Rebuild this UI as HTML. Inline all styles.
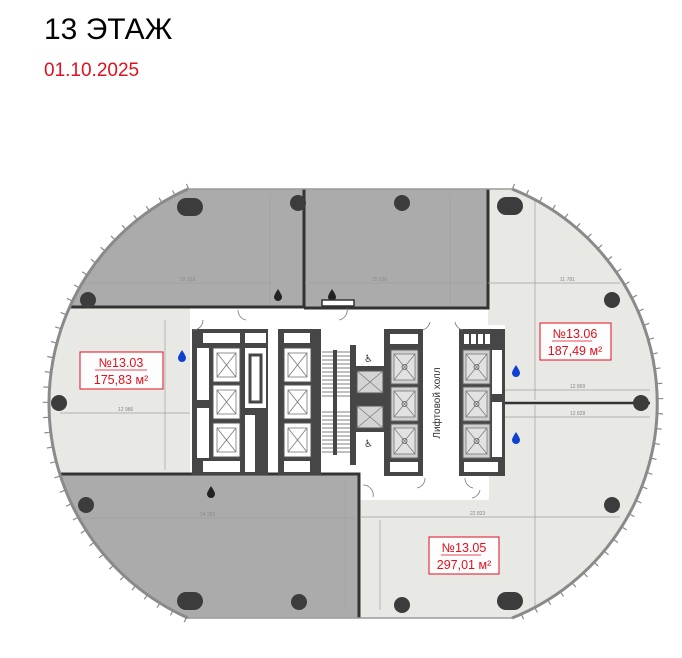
<!DOCTYPE html>
<html><head><meta charset="utf-8"><style>
html,body{margin:0;padding:0;background:#fff;width:682px;height:658px;overflow:hidden;}
.t{position:absolute;left:44px;top:13px;font:30px "Liberation Sans","DejaVu Sans",sans-serif;color:#000}
.d{position:absolute;left:44px;top:60px;font:19px "Liberation Sans","DejaVu Sans",sans-serif;color:#e0101e}
svg{position:absolute;left:0;top:0}
</style></head><body>
<div class="t">13 ЭТАЖ</div>
<div class="d">01.10.2025</div>
<svg width="682" height="658" viewBox="0 0 682 658" font-family="Liberation Sans, DejaVu Sans, sans-serif">
<defs>
<clipPath id="c"><path d="M188,189 L512,189 A231 231 0 0 1 512,618 L188,618 A235 235 0 0 1 188,189 Z"/></clipPath>
<g id="xb"><rect x="0" y="0" width="27" height="34" fill="#fff" stroke="#555" stroke-width="1"/><path d="M4,5 L23,29 M23,5 L4,29" stroke="#777" stroke-width="0.8"/><rect x="4" y="5" width="19" height="24" fill="none" stroke="#777" stroke-width="0.8"/></g>
<g id="eb"><rect x="0" y="0" width="27" height="34" fill="#cfd0cf" stroke="#666" stroke-width="1"/><rect x="3" y="4" width="21" height="26" fill="#e2e2e2" stroke="#777" stroke-width="0.8"/><path d="M3,4 L24,30 M24,4 L3,30" stroke="#777" stroke-width="0.7"/><circle cx="13.5" cy="17" r="2.5" fill="none" stroke="#555" stroke-width="0.8"/></g>
</defs>
<path d="M188,189 L512,189 A231 231 0 0 1 512,618 L188,618 A235 235 0 0 1 188,189 Z" fill="#e8e9e5"/>
<g clip-path="url(#c)">
<rect x="40" y="189" width="264" height="118" fill="#ababab"/>
<rect x="304" y="189" width="184" height="119" fill="#ababab"/>
<rect x="40" y="475" width="319" height="143" fill="#ababab"/>
<rect x="190" y="307" width="298" height="168" fill="#fff"/>
<rect x="488" y="325" width="17" height="150" fill="#fff"/>
<rect x="359" y="475" width="130" height="25" fill="#fff"/>
<g stroke="#333" stroke-width="3" fill="none">
<path d="M40,307 L304,307 M304,189 L304,307 M488,189 L488,308 L304,308"/>
<path d="M40,474 L359,474 L359,618"/>
</g>
<path d="M505,403 L650,403" stroke="#333" stroke-width="2.5"/>
<g stroke="#a0a0a0" stroke-width="0.7">
<path d="M80,283 L270,283 M270,195 L270,305 M305,283 L487,283 M450,195 L450,305"/>
<path d="M488,283 L620,283 M535,200 L535,400 M505,390 L650,390 M505,417 L650,417"/>
<path d="M535,405 L535,610 M360,517 L620,517 M380,520 L380,610"/>
<path d="M165,320 L165,470 M60,413 L190,413 M70,518 L355,518 M345,480 L345,610"/>
</g>
<g font-size="5" fill="#888">
<text x="180" y="281">19 332</text><text x="372" y="281">15 550</text><text x="560" y="281">11 781</text>
<text x="570" y="388">12 869</text><text x="570" y="415">12 828</text><text x="470" y="515">22 823</text>
<text x="118" y="411">12 986</text><text x="200" y="516">24 293</text>
</g>
</g>
<path d="M188,189 A235 235 0 0 0 188,618" fill="none" stroke="#8a8a8a" stroke-width="3"/>
<path d="M512,189 A231 231 0 0 1 512,618" fill="none" stroke="#8a8a8a" stroke-width="3"/>
<path d="M188,189 L512,189 M188,618 L512,618" stroke="#9a9a9a" stroke-width="1.5"/>
<path d="M188,186 A237 237 0 0 0 188,621" fill="none" stroke="#8a8a8a" stroke-width="5" stroke-dasharray="1.2 14"/>
<path d="M513,186 A234 234 0 0 1 513,621" fill="none" stroke="#8a8a8a" stroke-width="5" stroke-dasharray="1.2 14"/>
<g fill="#3c3c3c">
<rect x="177" y="198" width="26" height="18" rx="9"/>
<rect x="497" y="197" width="26" height="18" rx="9"/>
<rect x="177" y="592" width="26" height="18" rx="9"/>
<rect x="497" y="592" width="26" height="18" rx="9"/>
<circle cx="298" cy="203" r="8"/><circle cx="402" cy="203" r="8"/>
<circle cx="88" cy="300" r="8"/><circle cx="612" cy="300" r="8"/>
<circle cx="59" cy="403" r="8"/><circle cx="641" cy="403" r="8"/>
<circle cx="86" cy="505" r="8"/><circle cx="612" cy="505" r="8"/>
<circle cx="299" cy="602" r="8"/><circle cx="402" cy="605" r="8"/>
</g>
<g fill="#222">
<path d="M278,289 q-4,6 -4,8 a4,4 0 0 0 8,0 q0,-2 -4,-8z"/>
<path d="M332,289 q-4,6 -4,8 a4,4 0 0 0 8,0 q0,-2 -4,-8z"/>
<path d="M211,486 q-4,6 -4,8 a4,4 0 0 0 8,0 q0,-2 -4,-8z"/>
</g>
<g fill="#1040d0">
<path d="M182,350 q-4,6 -4,8 a4,4 0 0 0 8,0 q0,-2 -4,-8z"/>
<path d="M516,365 q-4,6 -4,8 a4,4 0 0 0 8,0 q0,-2 -4,-8z"/>
<path d="M516,432 q-4,6 -4,8 a4,4 0 0 0 8,0 q0,-2 -4,-8z"/>
</g>
<g fill="#464646">
<rect x="192" y="329" width="76" height="146"/>
<rect x="278" y="329" width="39" height="146"/>
<rect x="316" y="329" width="5" height="146"/>
<rect x="350" y="345" width="6" height="120"/>
<rect x="354" y="366" width="32" height="66"/>
<rect x="384" y="329" width="39" height="147"/>
<rect x="459" y="329" width="46" height="147"/>
</g>
<g fill="#fff">
<rect x="203" y="333" width="37" height="10"/><rect x="245" y="333" width="21" height="10"/>
<rect x="197" y="348" width="12" height="52"/><rect x="197" y="408" width="12" height="50"/>
<rect x="245" y="348" width="21" height="60"/><rect x="245" y="415" width="10" height="57"/>
<rect x="203" y="461" width="37" height="11"/>
<rect x="284" y="333" width="26" height="10"/><rect x="284" y="461" width="26" height="11"/>
<rect x="390" y="334" width="28" height="10"/><rect x="390" y="462" width="28" height="10"/>
<rect x="464" y="334" width="5" height="10"/><rect x="471" y="334" width="5" height="10"/><rect x="478" y="334" width="5" height="10"/><rect x="485" y="334" width="5" height="10"/>
<rect x="492" y="350" width="10" height="44"/><rect x="492" y="402" width="10" height="55"/>
<rect x="464" y="462" width="34" height="10"/>
</g>
<rect x="250" y="355" width="11" height="47" fill="none" stroke="#464646" stroke-width="3"/>
<use href="#xb" x="213" y="348"/><use href="#xb" x="213" y="385"/><use href="#xb" x="213" y="423"/>
<use href="#xb" x="284" y="348"/><use href="#xb" x="284" y="385"/><use href="#xb" x="284" y="423"/>
<use href="#eb" x="391" y="350"/><use href="#eb" x="391" y="387"/><use href="#eb" x="391" y="424"/>
<use href="#eb" x="463" y="350"/><use href="#eb" x="463" y="387"/><use href="#eb" x="463" y="424"/>
<rect x="357" y="371" width="26" height="22" fill="#d4d4d4" stroke="#555"/>
<rect x="357" y="406" width="26" height="22" fill="#d4d4d4" stroke="#555"/>
<path d="M357,371 L383,393 M383,371 L357,393 M357,406 L383,428 M383,406 L357,428" stroke="#777" stroke-width="0.7"/>
<text x="364" y="362" font-size="10" fill="#333">♿</text><text x="364" y="447" font-size="10" fill="#333">♿</text>
<g stroke="#555" stroke-width="0.8">
<path d="M322,352 h28 M322,356 h28 M322,360 h28 M322,364 h28 M322,368 h28 M322,372 h28 M322,376 h28 M322,380 h28 M322,384 h28 M322,388 h28 M322,392 h28 M322,396 h28"/>
<path d="M322,412 h28 M322,416 h28 M322,420 h28 M322,424 h28 M322,428 h28 M322,432 h28 M322,436 h28 M322,440 h28 M322,444 h28 M322,448 h28 M322,452 h28"/>
</g>
<rect x="333" y="350" width="4" height="105" fill="#464646"/>
<g fill="none" stroke="#777" stroke-width="0.8">
<path d="M203,320 a10,10 0 0 1 -10,10 M238,310 a10,10 0 0 0 8,10 M347,308 a10,10 0 0 1 -8,12 M430,322 a10,10 0 0 1 -8,8 M455,322 a10,10 0 0 0 8,8"/>
<path d="M363,485 a10,10 0 0 1 10,12 M425,478 a10,10 0 0 1 -8,10 M465,478 a10,10 0 0 0 8,10 M480,490 a10,10 0 0 1 -8,8"/>
</g>
<rect x="322" y="300" width="32" height="6" fill="#fff" stroke="#333" stroke-width="1.5"/>
<text transform="translate(440,403) rotate(-90)" font-size="10" fill="#333" text-anchor="middle">Лифтовой холл</text>
<g font-size="12.5" fill="#e0101e" text-anchor="middle">
<rect x="80" y="352" width="83" height="37" fill="#fff" fill-opacity="0.9" stroke="#e0101e" stroke-width="1"/>
<text x="121" y="367">№13.03</text><path d="M95,370 H147" stroke="#e0101e" stroke-width="0.8"/><text x="121" y="384">175,83 м²</text>
<rect x="540" y="323" width="71" height="37" fill="#fff" fill-opacity="0.9" stroke="#e0101e" stroke-width="1"/>
<text x="575" y="338">№13.06</text><path d="M552,341 H592" stroke="#e0101e" stroke-width="0.8"/><text x="575" y="355">187,49 м²</text>
<rect x="429" y="537" width="70" height="37" fill="#fff" fill-opacity="0.9" stroke="#e0101e" stroke-width="1"/>
<text x="464" y="552">№13.05</text><path d="M441,555 H481" stroke="#e0101e" stroke-width="0.8"/><text x="464" y="569">297,01 м²</text>
</g>
</svg>
</body></html>
